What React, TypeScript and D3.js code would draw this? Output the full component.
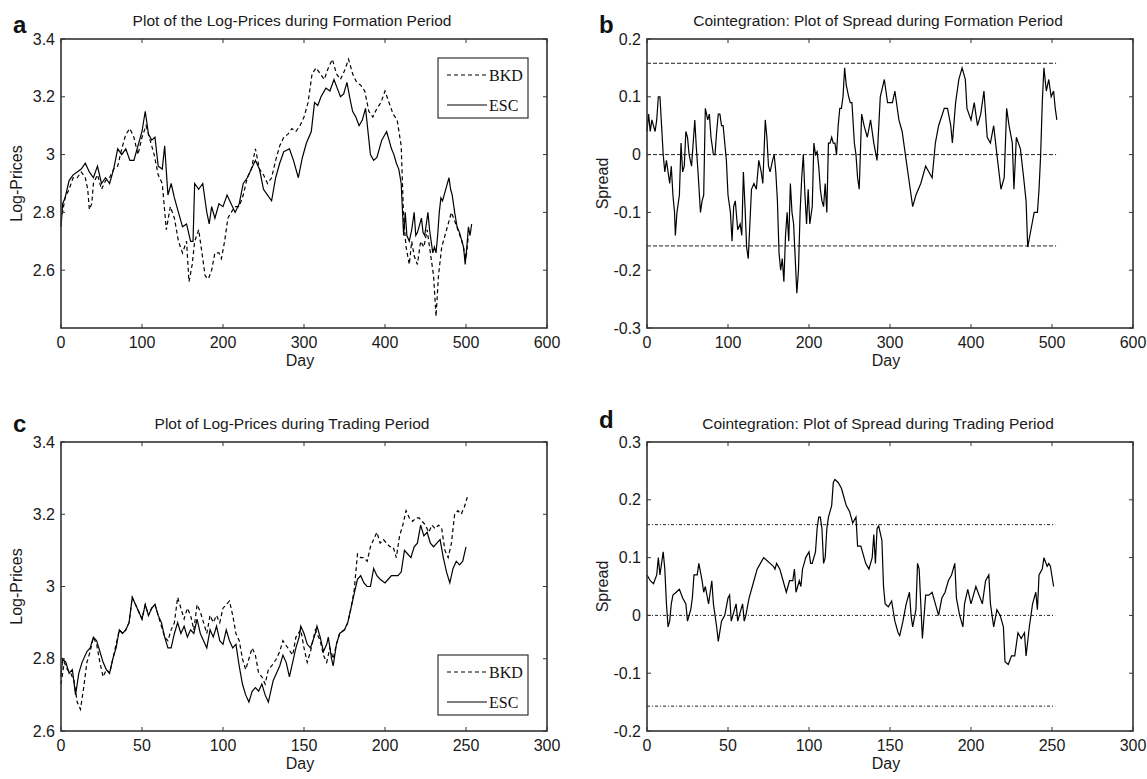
import * as d3 from 'd3';
import * as React from 'react';

const W = 1147;
const H = 779;

// ---- data: [day, value] ----
const formBKD: [number, number][] = [
  [0, 2.77], [5, 2.85], [10, 2.88], [15, 2.92], [20, 2.92], [25, 2.94], [30, 2.92], [33, 2.88], [35, 2.81], [38, 2.83],
  [40, 2.9], [45, 2.93], [50, 2.88], [55, 2.91], [60, 2.92], [65, 2.95], [70, 2.96], [75, 3.02], [80, 3.07], [85, 3.09],
  [90, 3.06], [95, 3.0], [100, 3.06], [105, 3.1], [110, 3.05], [115, 3.0], [120, 2.93], [125, 2.9], [130, 2.74], [135, 2.82],
  [140, 2.78], [145, 2.7], [150, 2.66], [155, 2.7], [158, 2.56], [162, 2.62], [165, 2.7], [170, 2.74], [173, 2.68], [178, 2.58],
  [182, 2.57], [186, 2.6], [190, 2.66], [195, 2.66], [198, 2.64], [202, 2.7], [206, 2.78], [210, 2.8], [215, 2.82], [220, 2.82],
  [225, 2.86], [230, 2.92], [235, 2.95], [240, 3.02], [245, 2.95], [250, 2.93], [255, 2.9], [260, 2.92], [265, 2.98], [270, 3.03],
  [275, 3.06], [280, 3.07], [285, 3.09], [290, 3.08], [295, 3.1], [300, 3.13], [305, 3.18], [310, 3.28], [315, 3.3], [320, 3.28],
  [325, 3.26], [330, 3.3], [335, 3.33], [340, 3.28], [345, 3.26], [350, 3.29], [355, 3.33], [360, 3.28], [365, 3.25], [370, 3.24],
  [375, 3.22], [380, 3.15], [385, 3.13], [390, 3.16], [395, 3.18], [400, 3.22], [405, 3.18], [410, 3.14], [415, 3.12], [420, 3.03],
  [423, 2.78], [426, 2.68], [430, 2.62], [433, 2.7], [436, 2.65], [440, 2.62], [444, 2.7], [448, 2.68], [452, 2.74], [456, 2.66],
  [460, 2.58], [463, 2.44], [466, 2.58], [470, 2.68], [474, 2.72], [478, 2.76], [482, 2.8], [486, 2.77], [490, 2.74], [495, 2.7],
  [500, 2.64], [503, 2.72],
];

const formESC: [number, number][] = [
  [0, 2.75], [2, 2.83], [5, 2.85], [10, 2.91], [15, 2.93], [20, 2.94], [25, 2.95], [30, 2.97], [35, 2.94], [40, 2.92],
  [45, 2.96], [50, 2.9], [55, 2.92], [60, 2.9], [65, 2.95], [70, 3.02], [75, 3.0], [80, 3.02], [85, 2.98], [90, 2.98],
  [95, 3.03], [100, 3.08], [104, 3.15], [108, 3.07], [112, 3.05], [116, 3.06], [120, 2.96], [125, 2.95], [128, 3.03], [132, 2.86],
  [136, 2.9], [140, 2.85], [145, 2.8], [150, 2.75], [155, 2.76], [160, 2.7], [163, 2.7], [165, 2.9], [170, 2.88], [175, 2.9],
  [180, 2.8], [183, 2.76], [186, 2.82], [190, 2.78], [195, 2.83], [200, 2.82], [205, 2.86], [210, 2.83], [215, 2.8], [220, 2.83],
  [225, 2.9], [230, 2.92], [235, 2.95], [240, 2.98], [245, 2.95], [250, 2.88], [255, 2.86], [260, 2.84], [265, 2.92], [270, 2.97],
  [275, 3.01], [282, 3.02], [287, 2.98], [293, 2.92], [298, 2.99], [303, 3.04], [309, 3.08], [313, 3.18], [317, 3.17], [321, 3.2],
  [327, 3.23], [332, 3.22], [337, 3.26], [341, 3.23], [345, 3.2], [349, 3.21], [353, 3.25], [357, 3.19], [360, 3.15], [364, 3.13],
  [368, 3.1], [372, 3.12], [376, 3.16], [379, 3.08], [382, 3.0], [386, 2.98], [390, 2.99], [396, 3.05], [402, 3.08], [405, 3.05],
  [408, 3.02], [411, 3.0], [414, 2.97], [417, 2.95], [420, 2.9], [423, 2.72], [425, 2.8], [427, 2.72], [430, 2.7], [433, 2.74],
  [436, 2.8], [438, 2.72], [440, 2.73], [443, 2.76], [445, 2.78], [447, 2.73], [449, 2.72], [451, 2.76], [453, 2.8], [455, 2.74],
  [457, 2.7], [459, 2.66], [461, 2.68], [463, 2.66], [465, 2.72], [467, 2.8], [469, 2.85], [471, 2.84], [473, 2.86], [476, 2.89],
  [479, 2.92], [481, 2.88], [483, 2.86], [486, 2.8], [489, 2.75], [492, 2.73], [495, 2.7], [497, 2.68], [499, 2.62], [501, 2.68],
  [503, 2.75], [505, 2.72], [507, 2.76],
];

const formSpread: [number, number][] = [
  [0, 0.04], [2, 0.07], [4, 0.04], [6, 0.06], [8, 0.05], [10, 0.04], [12, 0.06], [14, 0.1], [16, 0.1], [18, 0.05],
  [20, 0.0], [22, -0.03], [24, -0.01], [26, -0.03], [28, -0.05], [30, -0.02], [32, -0.07], [34, -0.1], [35, -0.14], [37, -0.1],
  [40, -0.07], [42, 0.02], [44, -0.03], [46, -0.02], [48, 0.04], [50, 0.03], [52, 0.0], [55, -0.02], [57, 0.02], [59, 0.06],
  [61, 0.01], [63, -0.03], [66, -0.1], [68, -0.08], [70, -0.07], [72, 0.08], [75, 0.06], [77, 0.07], [79, 0.03], [82, 0.0],
  [84, 0.0], [86, 0.04], [88, 0.07], [90, 0.07], [92, 0.05], [94, 0.05], [96, 0.02], [98, -0.01], [100, -0.07], [103, -0.1],
  [105, -0.15], [107, -0.09], [109, -0.08], [112, -0.13], [115, -0.12], [117, -0.14], [119, -0.03], [121, -0.09], [123, -0.16], [125, -0.18],
  [127, -0.12], [129, -0.06], [132, -0.05], [135, -0.06], [138, -0.01], [141, -0.03], [143, -0.05], [146, 0.06], [148, 0.03], [150, -0.02],
  [152, -0.03], [155, -0.01], [157, 0.0], [159, -0.03], [161, -0.08], [163, -0.17], [165, -0.2], [167, -0.18], [169, -0.22], [171, -0.14],
  [173, -0.1], [175, -0.15], [177, -0.05], [179, -0.1], [181, -0.12], [183, -0.18], [185, -0.24], [187, -0.2], [189, -0.1], [191, -0.04],
  [193, 0.0], [195, -0.07], [197, -0.12], [199, -0.06], [201, -0.12], [204, -0.09], [206, 0.02], [208, 0.0], [210, 0.005], [212, -0.02],
  [214, -0.06], [216, -0.08], [218, -0.09], [220, -0.05], [222, -0.1], [224, 0.02], [226, 0.02], [228, 0.03], [230, 0.02], [232, 0.02],
  [234, 0.0], [236, 0.05], [238, 0.08], [240, 0.08], [242, 0.1], [244, 0.15], [246, 0.12], [249, 0.1], [251, 0.09], [253, 0.09],
  [256, 0.02], [258, 0.0], [260, -0.04], [262, -0.06], [265, 0.07], [268, 0.05], [272, 0.03], [276, 0.06], [280, 0.02], [284, -0.01],
  [288, 0.1], [293, 0.13], [297, 0.09], [303, 0.09], [306, 0.11], [311, 0.06], [315, 0.04], [319, 0.0], [323, -0.04], [328, -0.09],
  [332, -0.07], [338, -0.05], [344, -0.02], [348, -0.03], [352, -0.04], [356, 0.02], [360, 0.05], [367, 0.08], [371, 0.08], [375, 0.05],
  [377, 0.02], [381, 0.09], [385, 0.13], [389, 0.15], [393, 0.13], [395, 0.08], [400, 0.06], [404, 0.09], [408, 0.05], [412, 0.07],
  [416, 0.11], [420, 0.03], [424, 0.02], [428, 0.05], [432, 0.0], [437, -0.06], [441, -0.04], [444, 0.08], [447, 0.05], [451, 0.02],
  [453, -0.06], [456, 0.03], [461, 0.01], [465, -0.04], [468, -0.08], [470, -0.16], [474, -0.13], [478, -0.1], [482, -0.1], [484, -0.06],
  [486, 0.0], [488, 0.09], [490, 0.15], [493, 0.11], [496, 0.13], [499, 0.1], [502, 0.11], [504, 0.08], [506, 0.06],
];

const tradBKD: [number, number][] = [
  [0, 2.73], [2, 2.79], [4, 2.77], [6, 2.76], [8, 2.74], [10, 2.68], [12, 2.66], [14, 2.72], [16, 2.79], [18, 2.82],
  [20, 2.86], [22, 2.84], [24, 2.79], [26, 2.75], [28, 2.77], [30, 2.76], [32, 2.8], [34, 2.84], [36, 2.88], [38, 2.87],
  [40, 2.88], [42, 2.9], [44, 2.97], [46, 2.95], [48, 2.93], [50, 2.91], [52, 2.95], [54, 2.92], [56, 2.94], [58, 2.95],
  [60, 2.92], [62, 2.89], [64, 2.86], [66, 2.85], [68, 2.88], [70, 2.9], [72, 2.97], [74, 2.94], [76, 2.91], [78, 2.94],
  [80, 2.92], [82, 2.88], [84, 2.95], [86, 2.93], [88, 2.9], [90, 2.87], [92, 2.92], [94, 2.9], [96, 2.92], [98, 2.9],
  [100, 2.94], [102, 2.95], [104, 2.96], [106, 2.92], [108, 2.87], [110, 2.85], [112, 2.8], [114, 2.77], [116, 2.8], [118, 2.83],
  [120, 2.81], [122, 2.76], [124, 2.75], [126, 2.73], [128, 2.77], [130, 2.78], [133, 2.8], [135, 2.82], [137, 2.85], [140, 2.83],
  [143, 2.81], [145, 2.86], [148, 2.88], [150, 2.83], [152, 2.79], [154, 2.82], [157, 2.88], [160, 2.85], [162, 2.81], [164, 2.79],
  [166, 2.83], [168, 2.8], [170, 2.84], [172, 2.87], [175, 2.88], [177, 2.9], [179, 2.94], [181, 2.99], [183, 3.09], [185, 3.08],
  [187, 3.08], [189, 3.07], [191, 3.11], [193, 3.13], [195, 3.15], [197, 3.12], [199, 3.13], [201, 3.12], [203, 3.11], [205, 3.11],
  [207, 3.08], [209, 3.14], [211, 3.17], [213, 3.21], [215, 3.19], [217, 3.18], [219, 3.19], [221, 3.19], [223, 3.18], [225, 3.17],
  [227, 3.15], [229, 3.17], [231, 3.16], [233, 3.17], [235, 3.16], [237, 3.1], [239, 3.08], [241, 3.12], [243, 3.2], [245, 3.21],
  [247, 3.2], [249, 3.22], [251, 3.25],
];

const tradESC: [number, number][] = [
  [0, 2.75], [1, 2.8], [3, 2.79], [5, 2.76], [7, 2.77], [9, 2.7], [11, 2.76], [13, 2.79], [16, 2.82], [18, 2.83],
  [20, 2.86], [22, 2.85], [24, 2.82], [26, 2.79], [28, 2.77], [30, 2.76], [32, 2.8], [34, 2.83], [36, 2.88], [38, 2.87],
  [40, 2.88], [42, 2.9], [44, 2.97], [46, 2.95], [48, 2.93], [50, 2.91], [52, 2.95], [54, 2.92], [56, 2.94], [58, 2.95],
  [60, 2.92], [62, 2.9], [64, 2.86], [66, 2.83], [68, 2.83], [70, 2.87], [72, 2.9], [74, 2.87], [76, 2.89], [78, 2.86],
  [80, 2.88], [82, 2.87], [84, 2.91], [86, 2.87], [88, 2.85], [90, 2.83], [92, 2.88], [94, 2.86], [96, 2.89], [98, 2.85],
  [100, 2.84], [102, 2.88], [104, 2.85], [106, 2.83], [108, 2.84], [110, 2.78], [112, 2.73], [114, 2.7], [116, 2.68], [118, 2.71],
  [120, 2.72], [122, 2.71], [124, 2.73], [126, 2.7], [128, 2.68], [130, 2.72], [131, 2.74], [133, 2.76], [135, 2.78], [137, 2.81],
  [139, 2.79], [141, 2.75], [143, 2.79], [145, 2.83], [147, 2.86], [148, 2.89], [150, 2.87], [152, 2.84], [154, 2.83], [157, 2.87],
  [158, 2.89], [160, 2.86], [162, 2.82], [164, 2.84], [165, 2.86], [167, 2.8], [168, 2.78], [170, 2.84], [172, 2.87], [175, 2.88],
  [177, 2.9], [179, 2.94], [181, 2.98], [183, 3.02], [185, 3.03], [187, 3.01], [189, 3.0], [191, 3.0], [193, 3.05], [195, 3.03],
  [197, 3.02], [200, 3.01], [202, 3.02], [204, 3.03], [206, 3.03], [208, 3.03], [210, 3.04], [212, 3.1], [214, 3.09], [216, 3.08],
  [218, 3.11], [220, 3.12], [222, 3.17], [224, 3.14], [226, 3.15], [228, 3.12], [230, 3.11], [232, 3.12], [234, 3.13], [236, 3.08],
  [238, 3.04], [240, 3.01], [242, 3.05], [244, 3.07], [246, 3.06], [248, 3.07], [250, 3.11],
];

const tradSpread: [number, number][] = [
  [0, 0.07], [2, 0.06], [4, 0.055], [6, 0.07], [7, 0.1], [8, 0.07], [9, 0.09], [10, 0.11], [11, 0.08], [12, 0.02],
  [13, -0.02], [14, -0.01], [15, 0.02], [16, 0.035], [18, 0.04], [20, 0.045], [22, 0.03], [24, 0.02], [25, -0.01], [27, 0.01],
  [28, 0.03], [29, 0.07], [31, 0.07], [32, 0.09], [34, 0.06], [35, 0.04], [36, 0.05], [38, 0.02], [39, 0.04], [40, 0.06],
  [41, 0.02], [42, 0.0], [43, -0.02], [44, -0.045], [46, -0.01], [48, 0.0], [50, 0.03], [51, 0.035], [52, -0.01], [53, 0.0],
  [55, 0.02], [56, -0.01], [57, 0.0], [59, 0.02], [60, -0.01], [61, 0.0], [63, 0.03], [65, 0.05], [66, 0.06], [68, 0.08],
  [70, 0.09], [72, 0.1], [74, 0.095], [76, 0.09], [78, 0.085], [79, 0.08], [80, 0.09], [82, 0.08], [84, 0.06], [86, 0.04],
  [87, 0.05], [88, 0.06], [90, 0.06], [91, 0.08], [92, 0.04], [94, 0.06], [95, 0.05], [96, 0.08], [97, 0.09], [98, 0.1],
  [100, 0.11], [101, 0.09], [102, 0.09], [104, 0.11], [105, 0.15], [106, 0.17], [107, 0.17], [108, 0.15], [109, 0.09], [110, 0.1],
  [111, 0.15], [112, 0.17], [114, 0.19], [115, 0.23], [116, 0.235], [118, 0.23], [120, 0.22], [121, 0.21], [123, 0.19], [125, 0.18],
  [127, 0.16], [129, 0.17], [130, 0.12], [132, 0.12], [135, 0.09], [137, 0.08], [139, 0.1], [140, 0.14], [141, 0.09], [142, 0.15],
  [143, 0.155], [145, 0.13], [146, 0.05], [147, 0.02], [149, 0.015], [151, 0.025], [153, -0.01], [155, -0.03], [156, -0.035], [158, -0.01],
  [160, 0.02], [162, 0.04], [163, 0.0], [164, -0.02], [166, 0.01], [167, 0.09], [168, 0.08], [170, -0.04], [172, 0.035], [174, 0.035],
  [176, 0.04], [178, 0.02], [180, 0.0], [182, 0.03], [184, 0.04], [186, 0.06], [188, 0.07], [190, 0.09], [191, 0.03], [193, 0.0],
  [195, -0.02], [196, 0.02], [198, 0.045], [200, 0.02], [203, 0.05], [205, 0.035], [207, 0.02], [209, 0.06], [211, 0.07], [212, 0.02],
  [214, -0.02], [216, 0.01], [218, 0.0], [220, -0.02], [221, -0.08], [223, -0.085], [225, -0.07], [227, -0.07], [229, -0.03], [231, -0.04],
  [233, -0.03], [234, -0.07], [236, -0.02], [238, 0.02], [240, 0.04], [241, 0.01], [242, 0.07], [244, 0.08], [245, 0.1], [247, 0.085],
  [248, 0.09], [249, 0.085], [251, 0.05],
];

// threshold lines (mean and +/- band) and how far they run
const formBand = [0.158, 0, -0.158];
const formBandEnd = 505;
const tradBand = [0.157, 0, -0.157];
const tradBandEnd = 252;

const formXTicks = [0, 100, 200, 300, 400, 500, 600];
const tradXTicks = [0, 50, 100, 150, 200, 250, 300];
const priceYTicks = [2.6, 2.8, 3, 3.2, 3.4];
const formSpreadYTicks = [-0.3, -0.2, -0.1, 0, 0.1, 0.2];
const tradSpreadYTicks = [-0.2, -0.1, 0, 0.1, 0.2, 0.3];
const seriesNames = ['BKD', 'ESC'];

const sans = '"Liberation Sans Narrow", "Arial Narrow", "Liberation Sans", Arial, sans-serif';
const ink = '#1a1a1a';

type Series = { data: [number, number][]; dash?: string };

type PanelProps = {
  x0: number;
  y0: number;
  w: number;
  h: number;
  letter: string;
  letterY: number;
  title: string;
  ylabel: string;
  xDomain: [number, number];
  yDomain: [number, number];
  xTicks: number[];
  yTicks: number[];
  series: Series[];
  band?: number[];
  bandEnd?: number;
  bandDash?: string;
  legendY?: number;
};

const fmt = (v: number) => String(+v.toFixed(1));

function Panel(p: PanelProps) {
  const x = d3.scaleLinear().domain(p.xDomain).range([p.x0, p.x0 + p.w]);
  const y = d3.scaleLinear().domain(p.yDomain).range([p.y0 + p.h, p.y0]);
  const line = d3
    .line<[number, number]>()
    .x(d => x(d[0]))
    .y(d => y(d[1]));
  const tl = 4;
  const cx = p.x0 + p.w / 2 - 12;

  return (
    <g>
      <text x={p.x0 - 48} y={p.letterY} fontFamily="Liberation Sans, Arial, sans-serif" fontWeight="bold" fontSize={24} fill="#111">
        {p.letter}
      </text>
      <text x={cx} y={p.y0 - 13} textAnchor="middle" fontFamily={sans} fontSize={15.5} fill={ink}>
        {p.title}
      </text>

      {p.band &&
        p.band.map(v => (
          <line
            key={v}
            x1={x(0)}
            x2={x(p.bandEnd as number)}
            y1={y(v)}
            y2={y(v)}
            stroke="#222"
            strokeWidth={1}
            strokeDasharray={p.bandDash}
          />
        ))}

      {p.series.map((s, i) => (
        <path key={i} d={line(s.data) as string} fill="none" stroke="#000" strokeWidth={1.2} strokeDasharray={s.dash} />
      ))}

      <rect x={p.x0} y={p.y0} width={p.w} height={p.h} fill="none" stroke="#333" strokeWidth={1.6} />

      {p.xTicks.map(t => (
        <g key={'x' + t}>
          <line x1={x(t)} x2={x(t)} y1={p.y0 + p.h} y2={p.y0 + p.h - tl} stroke="#333" />
          <line x1={x(t)} x2={x(t)} y1={p.y0} y2={p.y0 + tl} stroke="#333" />
          <text x={x(t)} y={p.y0 + p.h + 20} textAnchor="middle" fontFamily={sans} fontSize={16} fill={ink}>
            {fmt(t)}
          </text>
        </g>
      ))}
      {p.yTicks.map(t => (
        <g key={'y' + t}>
          <line x1={p.x0} x2={p.x0 + tl} y1={y(t)} y2={y(t)} stroke="#333" />
          <line x1={p.x0 + p.w} x2={p.x0 + p.w - tl} y1={y(t)} y2={y(t)} stroke="#333" />
          <text x={p.x0 - 6} y={y(t)} dy="0.35em" textAnchor="end" fontFamily={sans} fontSize={16} fill={ink}>
            {fmt(t)}
          </text>
        </g>
      ))}

      <text x={cx + 8} y={p.y0 + p.h + 38} textAnchor="middle" fontFamily={sans} fontSize={16} fill={ink}>
        Day
      </text>
      <text
        transform={`translate(${p.x0 - 39},${p.y0 + p.h / 2}) rotate(-90)`}
        textAnchor="middle"
        fontFamily={sans}
        fontSize={16}
        fill={ink}
      >
        {p.ylabel}
      </text>

      {p.legendY !== undefined && (
        <g transform={`translate(${p.x0 + 377},${p.legendY})`}>
          <rect x={0} y={0} width={90} height={60} fill="#fff" stroke="#333" strokeWidth={1.2} />
          {seriesNames.map((name, i) => (
            <g key={name} transform={`translate(0,${17 + i * 30})`}>
              <line x1={9} x2={49} y1={0} y2={0} stroke="#000" strokeWidth={1.1} strokeDasharray={i === 0 ? '4,3' : undefined} />
              <text x={51} y={0} dy="0.35em" fontFamily='"Liberation Serif", "Times New Roman", serif' fontSize={16} fill="#111">
                {name}
              </text>
            </g>
          ))}
        </g>
      )}
    </g>
  );
}

export default function App() {
  const left1 = 61;
  const left2 = 647;
  const pw = 486;
  const top1 = 39;
  const top2 = 442;
  const ph = 289;

  return (
    <svg
      width={W}
      height={H}
      viewBox={`0 0 ${W} ${H}`}
      style={{ position: 'absolute', left: 0, top: 0, background: '#fff' }}
    >
      <rect width={W} height={H} fill="#fff" />
      <Panel
        x0={left1}
        y0={top1}
        w={pw}
        h={ph}
        letter="a"
        letterY={33}
        title="Plot of the Log-Prices during Formation Period"
        ylabel="Log-Prices"
        xDomain={[0, 600]}
        yDomain={[2.4, 3.4]}
        xTicks={formXTicks}
        yTicks={priceYTicks}
        series={[
          { data: formBKD, dash: '4,3' },
          { data: formESC },
        ]}
        legendY={58}
      />
      <Panel
        x0={left2}
        y0={top1}
        w={pw}
        h={ph}
        letter="b"
        letterY={33}
        title="Cointegration: Plot of Spread during Formation Period"
        ylabel="Spread"
        xDomain={[0, 600]}
        yDomain={[-0.3, 0.2]}
        xTicks={formXTicks}
        yTicks={formSpreadYTicks}
        series={[{ data: formSpread }]}
        band={formBand}
        bandEnd={formBandEnd}
        bandDash="4,2"
      />
      <Panel
        x0={left1}
        y0={top2}
        w={pw}
        h={ph}
        letter="c"
        letterY={432}
        title="Plot of Log-Prices during Trading Period"
        ylabel="Log-Prices"
        xDomain={[0, 300]}
        yDomain={[2.6, 3.4]}
        xTicks={tradXTicks}
        yTicks={priceYTicks}
        series={[
          { data: tradBKD, dash: '4,3' },
          { data: tradESC },
        ]}
        legendY={655}
      />
      <Panel
        x0={left2}
        y0={top2}
        w={pw}
        h={ph}
        letter="d"
        letterY={428}
        title="Cointegration: Plot of Spread during Trading Period"
        ylabel="Spread"
        xDomain={[0, 300]}
        yDomain={[-0.2, 0.3]}
        xTicks={tradXTicks}
        yTicks={tradSpreadYTicks}
        series={[{ data: tradSpread }]}
        band={tradBand}
        bandEnd={tradBandEnd}
        bandDash="3,2,1,2"
      />
    </svg>
  );
}
